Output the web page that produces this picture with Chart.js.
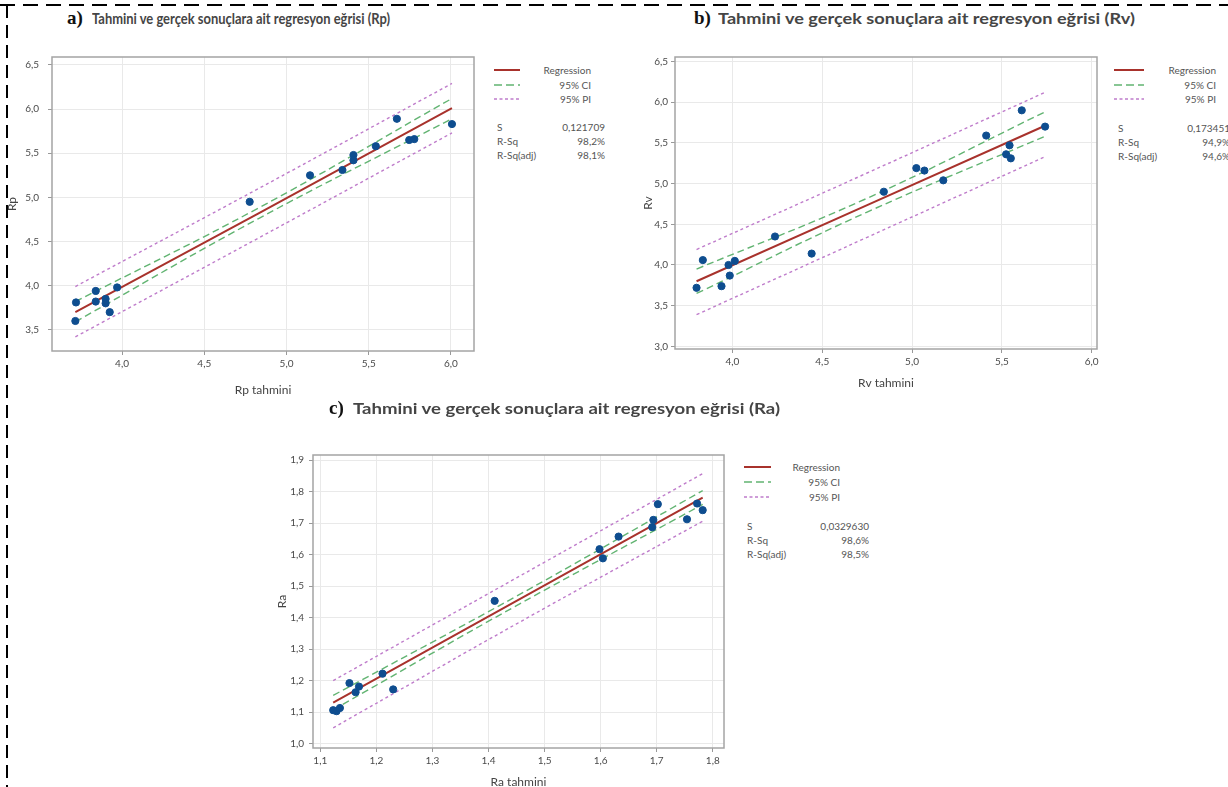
<!DOCTYPE html>
<html>
<head>
<meta charset="utf-8">
<script src="https://cdn.jsdelivr.net/npm/chart.js@4.4.0/dist/chart.umd.min.js"></script>
<style>
  body { margin: 0; width: 1228px; height: 787px; overflow: hidden; background: #fff; position: relative; font-family: Lato, "Noto Sans", sans-serif; }
  canvas { position: absolute; }
  .lbl { position: absolute; white-space: nowrap; }
  .ttl { font-family: Lato, sans-serif; font-weight: 700; font-size: 16px; line-height: 20px; color: #454545; transform-origin: left center; }
  .tag { font-family: "Liberation Serif", serif; font-weight: 700; font-size: 19px; line-height: 20px; color: #111; }
  .leg { font-size: 10px; line-height: 12px; color: #555; }
  svg.smp { position: absolute; }
</style>
</head>
<body>
<svg id="border" width="1228" height="787" style="position:absolute;left:0;top:0">
  <line x1="0" y1="5" x2="1228" y2="5" stroke="#000" stroke-width="2" stroke-dasharray="15 8"/>
  <line x1="7" y1="5" x2="7" y2="787" stroke="#000" stroke-width="2" stroke-dasharray="13 7"/>
</svg>
<canvas id="chartRp" width="480" height="365" style="left:0px;top:40px"></canvas>
<canvas id="chartRv" width="462" height="355" style="left:640px;top:40px"></canvas>
<canvas id="chartRa" width="460" height="360" style="left:270px;top:440px"></canvas>
<script>
// ---- a) Rp ----
const rpPredX = [3.716, 3.72, 3.84, 3.84, 3.90, 3.90, 3.925, 3.97, 4.776, 5.143, 5.34, 5.407, 5.407, 5.543, 5.671, 5.746, 5.777, 6.006];
const rpActual = [3.60, 3.81, 3.94, 3.82, 3.85, 3.80, 3.70, 3.98, 4.95, 5.25, 5.31, 5.48, 5.42, 5.58, 5.89, 5.65, 5.66, 5.83];
const rpFitX = [3.716, 4.83, 6.006];
const rpReg = [3.70, 4.82, 6.01];
const rpCiHi = [3.82, 4.88, 6.12];
const rpCiLo = [3.59, 4.76, 5.89];
const rpPiHi = [3.99, 5.10, 6.29];
const rpPiLo = [3.42, 4.54, 5.73];
const rpXTicks = [4.0, 4.5, 5.0, 5.5, 6.0];
const rpYTicks = [3.5, 4.0, 4.5, 5.0, 5.5, 6.0, 6.5];
const rpStats = ['0,121709', '98,2%', '98,1%'];

// ---- b) Rv ----
const rvPredX = [3.80, 3.835, 3.939, 3.978, 3.985, 4.013, 4.237, 4.441, 4.843, 5.024, 5.069, 5.174, 5.413, 5.524, 5.543, 5.55, 5.611, 5.741];
const rvActual = [3.72, 4.06, 3.74, 4.00, 3.87, 4.05, 4.35, 4.14, 4.90, 5.19, 5.16, 5.04, 5.59, 5.36, 5.47, 5.31, 5.90, 5.70];
const rvFitX = [3.80, 4.75, 5.74];
const rvReg = [3.80, 4.735, 5.71];
const rvCiHi = [3.95, 4.82, 5.88];
const rvCiLo = [3.65, 4.65, 5.58];
const rvPiHi = [4.19, 5.13, 6.12];
const rvPiLo = [3.39, 4.34, 5.33];
const rvXTicks = [4.0, 4.5, 5.0, 5.5, 6.0];
const rvYTicks = [3.0, 3.5, 4.0, 4.5, 5.0, 5.5, 6.0, 6.5];
const rvStats = ['0,173451', '94,9%', '94,6%'];

// ---- c) Ra ----
const raPredX = [1.123, 1.129, 1.135, 1.152, 1.163, 1.169, 1.211, 1.230, 1.411, 1.598, 1.604, 1.632, 1.692, 1.694, 1.702, 1.754, 1.772, 1.782];
const raActual = [1.106, 1.103, 1.113, 1.192, 1.163, 1.181, 1.222, 1.172, 1.453, 1.617, 1.588, 1.657, 1.687, 1.710, 1.760, 1.712, 1.762, 1.741];
const raFitX = [1.123, 1.45, 1.782];
const raReg = [1.13, 1.453, 1.781];
const raCiHi = [1.153, 1.468, 1.803];
const raCiLo = [1.107, 1.438, 1.759];
const raPiHi = [1.20, 1.526, 1.857];
const raPiLo = [1.05, 1.380, 1.706];
const raXTicks = [1.1, 1.2, 1.3, 1.4, 1.5, 1.6, 1.7, 1.8];
const raYTicks = [1.0, 1.1, 1.2, 1.3, 1.4, 1.5, 1.6, 1.7, 1.8, 1.9];
const raStats = ['0,0329630', '98,6%', '98,5%'];

const legendNames = ['Regression', '95% CI', '95% PI'];
const statNames = ['S', 'R-Sq', 'R-Sq(adj)'];

const RED = '#a8322c', GREEN = '#62b472', PURPLE = '#bf7ccb', DOT = '#0e4d8f';

const pts = (xs, ys) => xs.map((x, i) => ({ x: x, y: ys[i] }));
const fmt = v => v.toFixed(1).replace('.', ',');

const framePlugin = {
  id: 'frame',
  afterDraw(chart) {
    const { ctx, chartArea: a } = chart;
    ctx.save();
    ctx.strokeStyle = '#a4a4a4';
    ctx.lineWidth = 1.5;
    ctx.strokeRect(a.left, a.top, a.right - a.left, a.bottom - a.top);
    ctx.restore();
  }
};

function makeChart(id, d, g) {
  const axisFont = { family: 'Lato', size: 10 };
  const titleFont = { family: 'Lato', size: 12 };
  new Chart(document.getElementById(id), {
    type: 'scatter',
    data: {
      datasets: [
        { data: pts(d.x, d.y), backgroundColor: DOT, borderColor: DOT, pointRadius: 3.6, pointHoverRadius: 3.6 },
        { data: pts(d.fx, d.reg), showLine: true, borderColor: RED, borderWidth: 2, pointRadius: 0 },
        { data: pts(d.fx, d.ciHi), showLine: true, borderColor: GREEN, borderWidth: 1.4, borderDash: [7, 4], pointRadius: 0, tension: 0.4 },
        { data: pts(d.fx, d.ciLo), showLine: true, borderColor: GREEN, borderWidth: 1.4, borderDash: [7, 4], pointRadius: 0, tension: 0.4 },
        { data: pts(d.fx, d.piHi), showLine: true, borderColor: PURPLE, borderWidth: 1.4, borderDash: [3, 3], pointRadius: 0, tension: 0.4 },
        { data: pts(d.fx, d.piLo), showLine: true, borderColor: PURPLE, borderWidth: 1.4, borderDash: [3, 3], pointRadius: 0, tension: 0.4 }
      ]
    },
    options: {
      responsive: false,
      animation: false,
      layout: { padding: { top: g.top, right: g.right, left: 0, bottom: 0 } },
      plugins: { legend: { display: false }, tooltip: { enabled: false } },
      scales: {
        x: {
          type: 'linear', min: d.xMin, max: d.xMax,
          afterBuildTicks: s => { s.ticks = d.xTicks.map(v => ({ value: v })); },
          afterFit: s => { s.height = g.xh; },
          grid: { color: '#e9e9e9', tickColor: '#999', tickLength: 4 },
          border: { display: false },
          ticks: { autoSkip: false, maxRotation: 0, padding: 3, color: '#4a4a4a', font: axisFont, callback: v => fmt(v) },
          title: { display: true, text: d.xTitle, color: '#444', font: titleFont, padding: { top: 0, bottom: g.xtp } }
        },
        y: {
          type: 'linear', min: d.yMin, max: d.yMax,
          afterBuildTicks: s => { s.ticks = d.yTicks.map(v => ({ value: v })); },
          afterFit: s => { s.width = g.yw; },
          grid: { color: '#e9e9e9', tickColor: '#999', tickLength: 4 },
          border: { display: false },
          ticks: { autoSkip: false, padding: g.ypad, color: '#4a4a4a', font: axisFont, callback: v => fmt(v) },
          title: { display: true, text: d.yTitle, color: '#444', font: titleFont, padding: { top: g.ytp, bottom: 0 } }
        }
      }
    },
    plugins: [framePlugin]
  });
}

makeChart('chartRp',
  { x: rpPredX, y: rpActual, fx: rpFitX, reg: rpReg, ciHi: rpCiHi, ciLo: rpCiLo, piHi: rpPiHi, piLo: rpPiLo,
    xTicks: rpXTicks, yTicks: rpYTicks, xMin: 3.574, xMax: 6.14, yMin: 3.26, yMax: 6.59, xTitle: 'Rp tahmini', yTitle: 'Rp' },
  { top: 17, right: 6, yw: 52, xh: 54, xtp: 8, ytp: 5, ypad: 9 });

makeChart('chartRv',
  { x: rvPredX, y: rvActual, fx: rvFitX, reg: rvReg, ciHi: rvCiHi, ciLo: rvCiLo, piHi: rvPiHi, piLo: rvPiLo,
    xTicks: rvXTicks, yTicks: rvYTicks, xMin: 3.68, xMax: 6.03, yMin: 2.968, yMax: 6.555, xTitle: 'Rv tahmini', yTitle: 'Rv' },
  { top: 17, right: 5, yw: 35, xh: 46, xtp: 5, ytp: 1, ypad: 3 });

makeChart('chartRa',
  { x: raPredX, y: raActual, fx: raFitX, reg: raReg, ciHi: raCiHi, ciLo: raCiLo, piHi: raPiHi, piLo: raPiLo,
    xTicks: raXTicks, yTicks: raYTicks, xMin: 1.087, xMax: 1.82, yMin: 0.986, yMax: 1.916, xTitle: 'Ra tahmini', yTitle: 'Ra' },
  { top: 15, right: 6, yw: 43, xh: 52, xtp: 11, ytp: 5, ypad: 5 });

// titles
function addText(cls, text, left, top) {
  const el = document.createElement('div');
  el.className = 'lbl ' + cls;
  el.textContent = text;
  el.style.left = left + 'px';
  el.style.top = top + 'px';
  document.body.appendChild(el);
  return el;
}
function addTitle(tag, text, tagLeft, textLeft, width, top) {
  addText('tag', tag, tagLeft, top);
  const t = addText('ttl', text, textLeft, top);
  t.style.transform = 'scaleX(' + (width / t.getBoundingClientRect().width) + ')';
}
addTitle('a)', 'Tahmini ve gerçek sonuçlara ait regresyon eğrisi (Rp)', 67, 92, 298, 8);
addTitle('b)', 'Tahmini ve gerçek sonuçlara ait regresyon eğrisi (Rv)', 694, 718, 417, 8);
addTitle('c)', 'Tahmini ve gerçek sonuçlara ait regresyon eğrisi (Ra)', 329, 353, 427, 398);

// legends and stats
function addLegend(L) {
  const styles = [
    { c: RED, w: 2, dash: '' },
    { c: GREEN, w: 1.5, dash: '8 4' },
    { c: PURPLE, w: 1.5, dash: '3 2.5' }
  ];
  legendNames.forEach((name, i) => {
    const s = styles[i];
    const svg = document.createElementNS('http://www.w3.org/2000/svg', 'svg');
    svg.setAttribute('class', 'smp');
    svg.setAttribute('width', L.sw);
    svg.setAttribute('height', 6);
    svg.style.left = L.sx + 'px';
    svg.style.top = (L.ly[i] - 3) + 'px';
    svg.innerHTML = '<line x1="0" y1="3" x2="' + L.sw + '" y2="3" stroke="' + s.c + '" stroke-width="' + s.w + '"' +
      (s.dash ? ' stroke-dasharray="' + s.dash + '"' : '') + '/>';
    document.body.appendChild(svg);
    const t = addText('leg', name, 0, L.ly[i] - 6);
    t.style.left = (L.lr - t.getBoundingClientRect().width) + 'px';
  });
  statNames.forEach((name, i) => {
    addText('leg', name, L.stx, L.sy[i] - 6);
    const v = addText('leg', L.vals[i], 0, L.sy[i] - 6);
    v.style.left = (L.vr - v.getBoundingClientRect().width) + 'px';
  });
}
addLegend({ sx: 494, sw: 26, lr: 591, ly: [70, 85, 99], stx: 497, vr: 605, sy: [127, 141, 155], vals: rpStats });
addLegend({ sx: 1114, sw: 30, lr: 1216, ly: [70, 85, 99], stx: 1118, vr: 1230, sy: [128, 142, 156], vals: rvStats });
addLegend({ sx: 744, sw: 27, lr: 840, ly: [467, 482, 497], stx: 747, vr: 869, sy: [526, 540, 554], vals: raStats });
</script>
</body>
</html>
